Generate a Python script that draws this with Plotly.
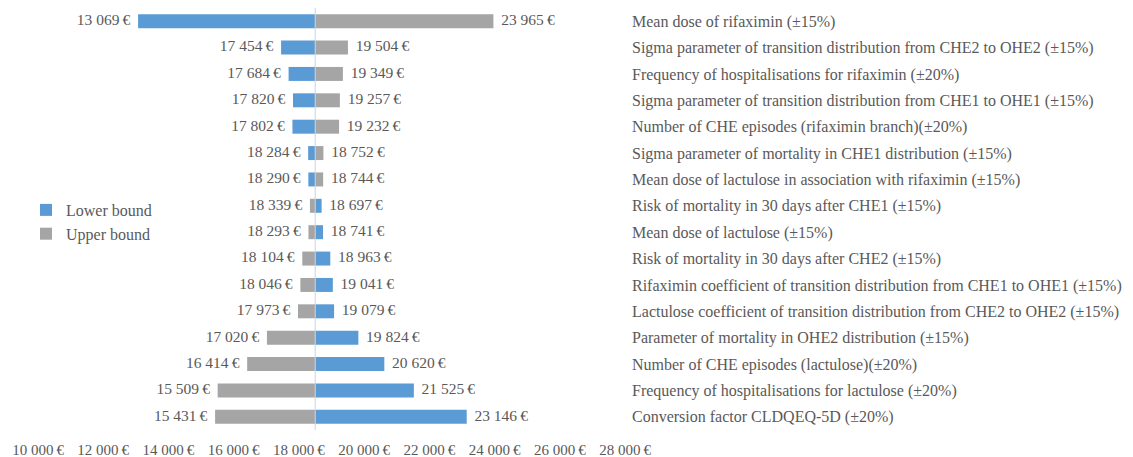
import plotly.graph_objects as go

# ---- data ----
parameters = [
    "Mean dose of rifaximin (±15%)",
    "Sigma parameter of transition distribution from CHE2 to OHE2 (±15%)",
    "Frequency of hospitalisations for rifaximin (±20%)",
    "Sigma parameter of transition distribution from CHE1 to OHE1 (±15%)",
    "Number of CHE episodes (rifaximin branch)(±20%)",
    "Sigma parameter of mortality in CHE1 distribution (±15%)",
    "Mean dose of lactulose in association with rifaximin (±15%)",
    "Risk of mortality in 30 days after CHE1 (±15%)",
    "Mean dose of lactulose (±15%)",
    "Risk of mortality in 30 days after CHE2 (±15%)",
    "Rifaximin coefficient of transition distribution from CHE1 to OHE1 (±15%)",
    "Lactulose coefficient of transition distribution from CHE2 to OHE2 (±15%)",
    "Parameter of mortality in OHE2 distribution (±15%)",
    "Number of CHE episodes (lactulose)(±20%)",
    "Frequency of hospitalisations for lactulose (±20%)",
    "Conversion factor CLDQEQ-5D (±20%)",
]
lower_bound = [13069, 17454, 17684, 17820, 17802, 18284, 18290, 18697,
               18741, 18963, 19041, 19079, 19824, 20620, 21525, 23146]
upper_bound = [23965, 19504, 19349, 19257, 19232, 18752, 18744, 18339,
               18293, 18104, 18046, 17973, 17020, 16414, 15509, 15431]
base_value = 18500
tick_values = [10000, 12000, 14000, 16000, 18000, 20000, 22000, 24000, 26000, 28000]

BLUE = "#5B9BD5"
GREY = "#A5A5A5"
TXT = "#595959"
FONT = "Liberation Serif"

# page body adds an 8px offset; figure is sized to fit the window with it
W, H = 1125, 449


def eur(v):
    return f"{v:,}".replace(",", " ") + "\u2009€"


fig = go.Figure()
for name, vals, col in [("Lower bound", lower_bound, BLUE), ("Upper bound", upper_bound, GREY)]:
    fig.add_trace(go.Bar(
        name=name, y=parameters, x=[v - base_value for v in vals], base=base_value,
        orientation="h", marker=dict(color=col, line=dict(width=0)), width=0.53,
        hoverinfo="skip",
    ))
    fig.add_trace(go.Scatter(
        y=parameters, x=vals, mode="text", showlegend=False, cliponaxis=False,
        text=[("\u00a0\u00a0" + eur(v)) if v > base_value else (eur(v) + "\u00a0\u00a0") for v in vals],
        textposition=["middle right" if v > base_value else "middle left" for v in vals],
        textfont=dict(family=FONT, size=15.5, color=TXT), hoverinfo="skip",
    ))

fig.add_shape(type="line", xref="x", yref="paper", x0=base_value, x1=base_value,
              y0=0, y1=1, line=dict(color="#C9D3DF", width=1))

fig.update_layout(
    width=W, height=H,
    margin=dict(l=30, r=508, t=0, b=27, autoexpand=False),
    paper_bgcolor="white", plot_bgcolor="white",
    barmode="overlay", bargap=0.47,
    font=dict(family=FONT, size=15, color=TXT),
    showlegend=True,
    legend=dict(xref="container", yref="container", x=18 / W, y=0.588,
                xanchor="left", yanchor="top", bgcolor="rgba(0,0,0,0)",
                font=dict(family=FONT, size=16, color=TXT), tracegroupgap=0,
                itemwidth=30),
)
fig.update_xaxes(range=[10000, 28000], tickvals=tick_values,
                 ticktext=[eur(v) for v in tick_values], tickangle=0,
                 automargin=False, ticklen=0,
                 showgrid=False, zeroline=False, showline=False, ticks="",
                 ticklabelstandoff=9, tickfont=dict(family=FONT, size=15, color=TXT))
fig.update_yaxes(categoryorder="array", categoryarray=parameters,
                 range=[len(parameters) - 0.5, -0.5], autorange=False,
                 side="right", showgrid=False, zeroline=False, showline=False, ticks="",
                 automargin=False, ticklen=0,
                 ticklabelstandoff=6, tickfont=dict(family=FONT, size=16, color=TXT))

fig.write_html("out.html")
